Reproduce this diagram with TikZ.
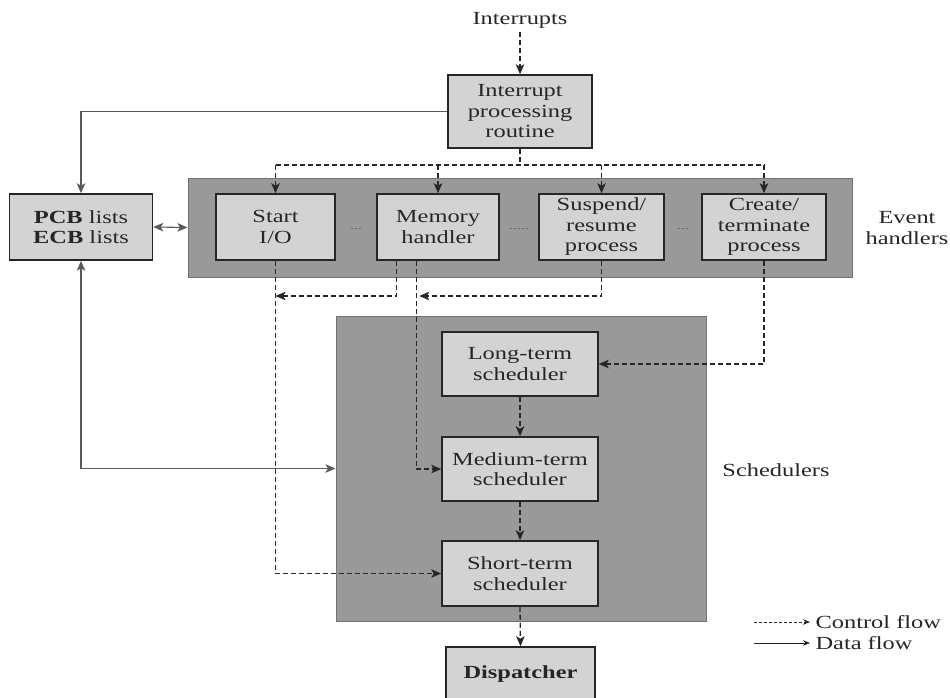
\documentclass[tikz,border=0pt]{standalone}
\usepackage{fontspec}
\setmainfont[FakeStretch=1.32]{Liberation Serif}
\usetikzlibrary{arrows.meta}
\definecolor{boxfill}{HTML}{D3D3D3}
\definecolor{panelfill}{HTML}{999999}
\definecolor{ink}{HTML}{262626}
\begin{document}
\begin{tikzpicture}[x=1pt,y=-1pt,
  font=\fontsize{18.5}{20.5}\selectfont,
  box/.style={draw=ink, line width=1.5pt, fill=boxfill, align=center,
              inner sep=0pt, text=ink},
  panel/.style={draw=black!55, line width=1pt, fill=panelfill, inner sep=0pt},
  label/.style={align=center, text=ink},
  headtip/.tip={Stealth[length=10pt,width=8.5pt,inset=2.5pt]},
  tip/.style={-headtip},
  ctrl/.style={draw=ink, line width=1.3pt, dash pattern=on 5pt off 3pt, tip},
  ctrlline/.style={draw=ink, line width=1.3pt, dash pattern=on 5pt off 3pt},
  data/.style={draw=black!65, line width=1.1pt},
  gapdots/.style={draw=ink!70, line width=1pt, dash pattern=on 2pt off 2pt}
]
\useasboundingbox (0,0) rectangle (950,698);

% panels
\node[panel, minimum width=664pt, minimum height=99pt] (ehbg) at (520,227.5) {};
\node[panel, minimum width=370pt, minimum height=305pt] (schbg) at (521,468.5) {};

% interrupt entry
\node[label] (intr) at (520,20) {Interrupts};
\node[box, minimum width=144pt, minimum height=73pt] (ipr) at (520,111.5)
  {Interrupt\\processing\\routine};

% tables
\node[box, minimum width=143pt, minimum height=66pt] (pcb) at (81,227)
  {\textbf{PCB} lists\\\textbf{ECB} lists};

% event handlers
\node[box, minimum width=119pt, minimum height=66pt] (start) at (275.5,227) {Start\\I/O};
\node[box, minimum width=122pt, minimum height=66pt] (mem) at (438,227) {Memory\\handler};
\node[box, minimum width=125pt, minimum height=66pt] (susp) at (601.5,227)
  {Suspend/\\resume\\process};
\node[box, minimum width=124pt, minimum height=66pt] (crt) at (764,227)
  {Create/\\terminate\\process};
\node[label] (ehlab) at (907,228) {Event\\handlers};

\draw[gapdots] (351,228) -- (361,228);
\draw[gapdots] (510,228) -- (528,228);
\draw[gapdots] (678,228) -- (688,228);

% schedulers
\node[box, minimum width=156pt, minimum height=64pt] (long) at (520,364) {Long-term\\scheduler};
\node[box, minimum width=156pt, minimum height=64pt] (med) at (520,469) {Medium-term\\scheduler};
\node[box, minimum width=156pt, minimum height=65pt] (short) at (520,573.5) {Short-term\\scheduler};
\node[label] (schlab) at (776,470) {Schedulers};
\node[box, minimum width=149pt, minimum height=54pt] (disp) at (520.5,674) {\textbf{Dispatcher}};

% control flow from the interrupt routine to the handlers
\coordinate (bus) at (520,165);
\coordinate (row) at (0,296);
\draw[ctrl] (intr.south) -- (ipr.north);
\draw[ctrlline] (ipr.south) -- (bus);
\draw[ctrlline] (start.north |- bus) -- (crt.north |- bus);
\draw[ctrl] (start.north |- bus) -- (start.north);
\draw[ctrl] (mem.north |- bus) -- (mem.north);
\draw[ctrl] (susp.north |- bus) -- (susp.north);
\draw[ctrl] (crt.north |- bus) -- (crt.north);

% data flow
\draw[data, tip] (ipr.west) -| (pcb.north);
\draw[data, headtip-headtip] (pcb.east) -- (ehbg.west);
\draw[data, headtip-headtip] (pcb.south) |- (schbg.west);

% control flow from the handlers to the schedulers
\draw[ctrl] (start.south) |- (short.west);
\draw[ctrl] ([xshift=20pt]mem.south west) |- (start.south |- row);
\draw[ctrl] ([xshift=40pt]mem.south west) |- (med.west);
\draw[ctrl] (susp.south) |- ([xshift=43pt]mem.south west |- row);
\draw[ctrl] (crt.south) |- (long.east);
\draw[ctrl] (long.south) -- (med.north);
\draw[ctrl] (med.south) -- (short.north);
\draw[ctrl] (short.south) -- (disp.north);

% legend
\node[label, anchor=west] (lgc) at (812,622) {Control flow};
\node[label, anchor=west] (lgd) at (812,643) {Data flow};
\draw[draw=ink, line width=0.9pt, dash pattern=on 3pt off 2pt, -{Stealth[length=7pt,width=5.5pt]}]
  ([xshift=-58pt]lgc.west) -- ([xshift=-2pt]lgc.west);
\draw[draw=ink, line width=0.9pt, -{Stealth[length=7pt,width=5.5pt]}]
  ([xshift=-58pt]lgd.west) -- ([xshift=-2pt]lgd.west);
\end{tikzpicture}
\end{document}
